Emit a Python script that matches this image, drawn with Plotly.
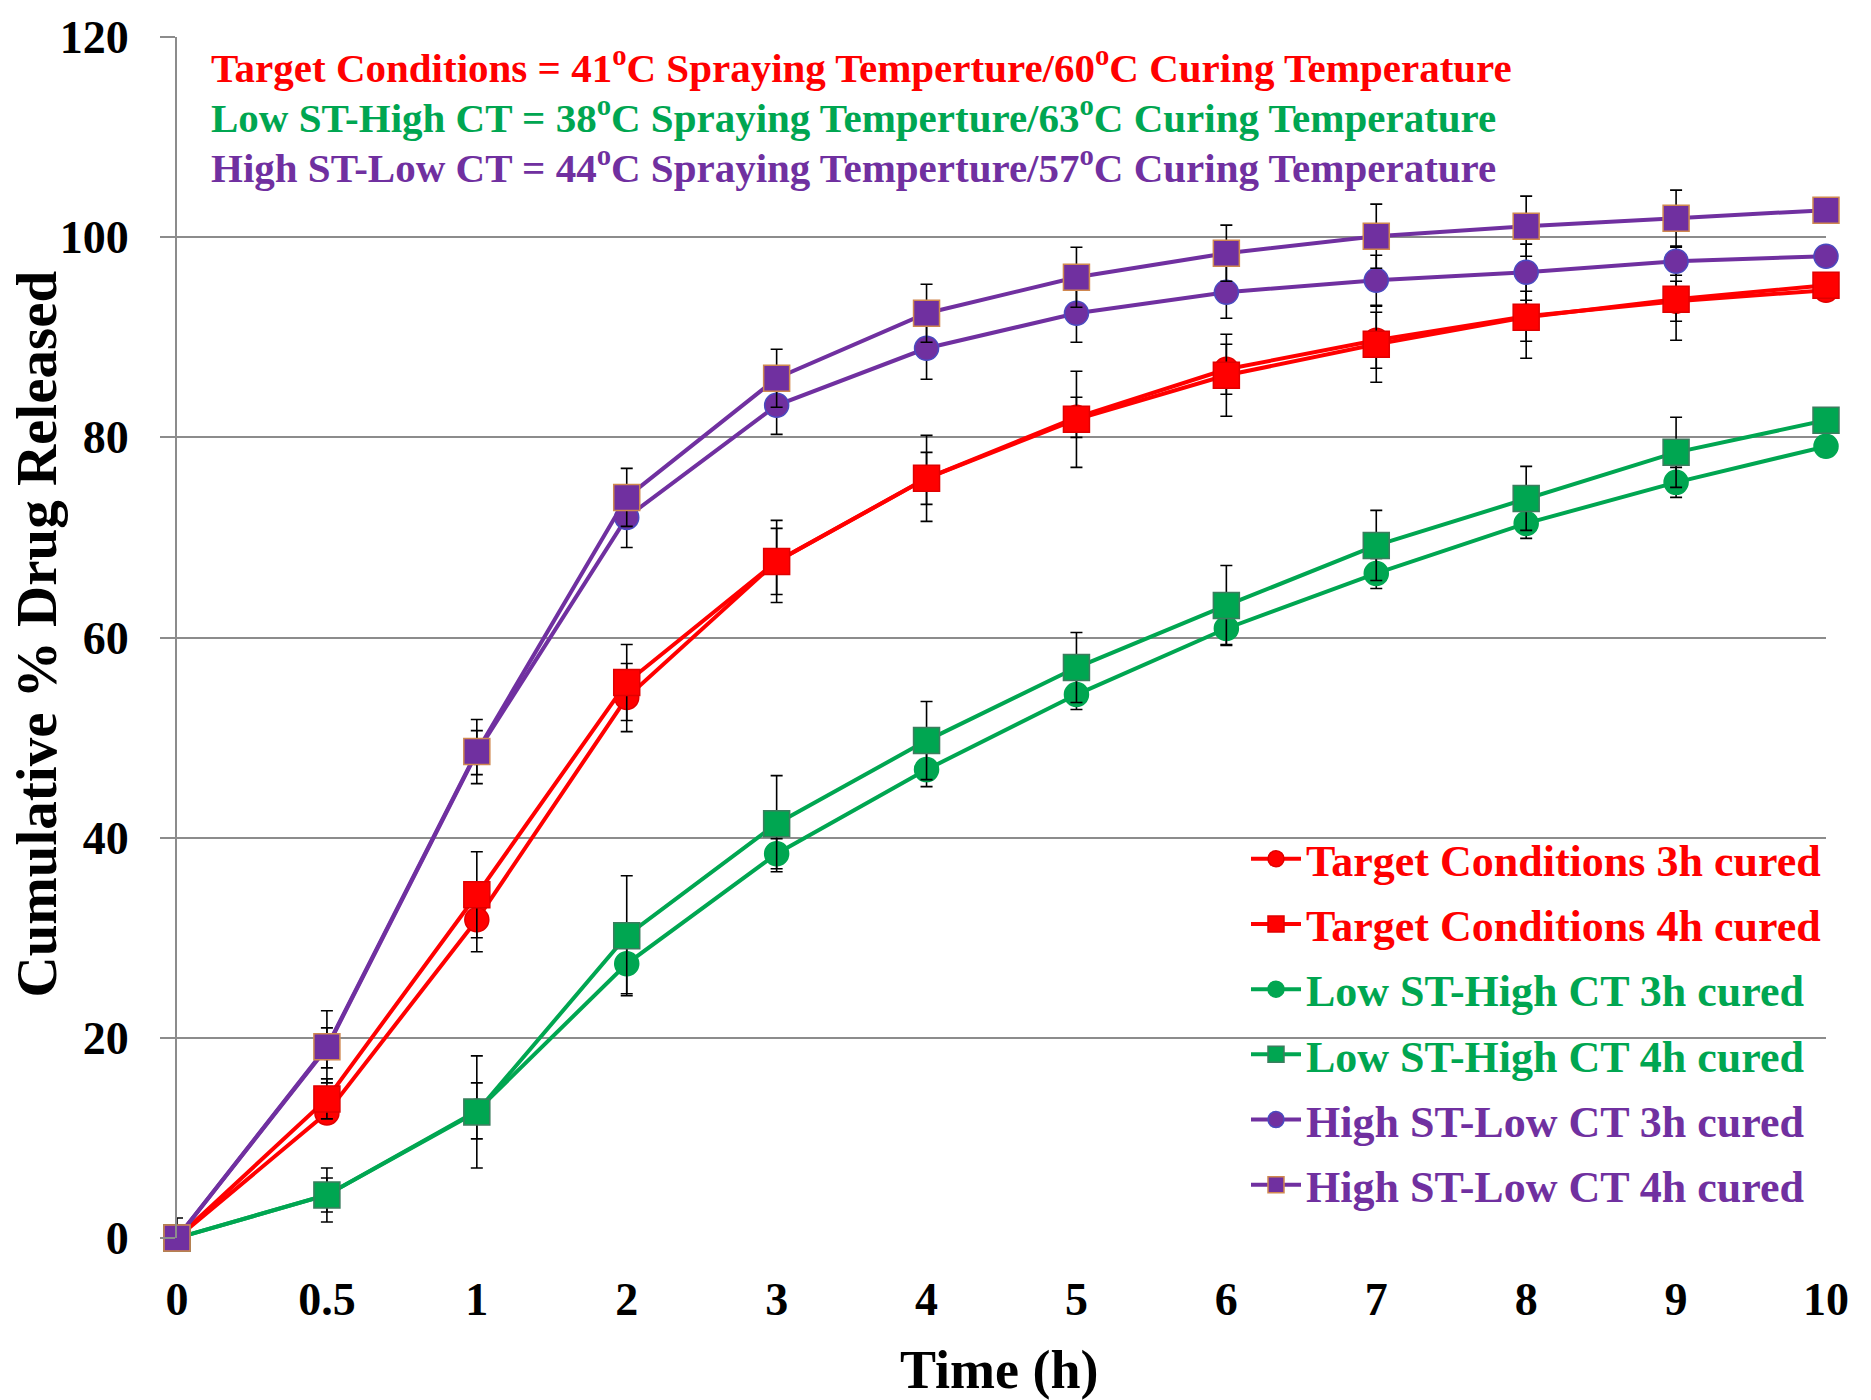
import plotly.graph_objects as go

times = ["0", "0.5", "1", "2", "3", "4", "5", "6", "7", "8", "9", "10"]

tc3 = [0, 12.5, 31.8, 54.0, 67.6, 75.9, 82.0, 86.8, 89.7, 92.1, 93.6, 94.7]
tc3_err = [0.5, 1.0, 3.2, 3.4, 3.3, 2.6, 2.0, 2.5, 2.8, 2.5, 2.0, 1.0]
tc4 = [0, 13.9, 34.3, 55.5, 67.6, 75.9, 81.8, 86.2, 89.3, 92.0, 93.8, 95.2]
tc4_err = [0.5, 2.0, 4.3, 3.8, 4.1, 4.3, 4.8, 4.1, 3.8, 4.1, 4.1, 1.0]
lo3 = [0, 4.3, 12.7, 27.4, 38.4, 46.8, 54.3, 60.9, 66.4, 71.4, 75.5, 79.1]
lo3_err = [0.3, 1.7, 2.8, 3.0, 1.5, 1.7, 1.5, 1.6, 1.5, 1.5, 1.5, 1.0]
lo4 = [0, 4.3, 12.6, 30.2, 41.4, 49.7, 57.0, 63.2, 69.2, 73.9, 78.5, 81.7]
lo4_err = [0.3, 2.7, 5.6, 6.0, 4.8, 3.9, 3.5, 4.0, 3.5, 3.2, 3.5, 1.0]
hi3 = [0, 19.0, 48.5, 72.0, 83.2, 88.9, 92.4, 94.5, 95.7, 96.5, 97.6, 98.1]
hi3_err = [0.5, 2.0, 2.2, 3.0, 2.9, 3.1, 2.9, 2.6, 2.5, 2.8, 1.4, 1.0]
hi4 = [0, 19.1, 48.6, 74.0, 85.9, 92.4, 96.0, 98.4, 100.1, 101.1, 101.9, 102.7]
hi4_err = [2.0, 3.6, 3.2, 2.9, 2.9, 2.9, 3.0, 2.8, 3.2, 3.0, 2.8, 0.5]

names = ["Target Conditions 3h cured", "Target Conditions 4h cured",
         "Low ST-High CT 3h cured", "Low ST-High CT 4h cured",
         "High ST-Low CT 3h cured", "High ST-Low CT 4h cured"]

notes = ["Target Conditions = 41<sup>o</sup>C Spraying Temperture/60<sup>o</sup>C Curing Temperature",
         "Low ST-High CT = 38<sup>o</sup>C Spraying Temperture/63<sup>o</sup>C Curing Temperature",
         "High ST-Low CT = 44<sup>o</sup>C Spraying Temperture/57<sup>o</sup>C Curing Temperature"]

RED = "#FF0000"
GREEN = "#00A651"
PURPLE = "#7030A0"
FONT = "Liberation Serif"

series = [
    (tc3, tc3_err, RED, "circle", "#E00000"),
    (tc4, tc4_err, RED, "square", "#E00000"),
    (lo3, lo3_err, GREEN, "circle", "#00A651"),
    (lo4, lo4_err, GREEN, "square", "#3C7D5E"),
    (hi3, hi3_err, PURPLE, "circle", "#4A4AC0"),
    (hi4, hi4_err, PURPLE, "square", "#D08850"),
]

fig = go.Figure()
for i, ((vals, errs, col, sym, edge), nm) in enumerate(zip(series, names)):
    fig.add_trace(go.Scatter(
        x=times, y=vals,
        mode="lines+markers",
        name=f'<span style="color:{col}">{nm}</span>',
        legendgroup=f"g{i}",
        line=dict(color=col, width=4),
        marker=dict(symbol=sym, size=24 if sym == "circle" else 26, color=col,
                    line=dict(color=edge, width=1.5)),
        error_y=dict(type="data", array=errs, visible=True, color="black",
                     thickness=1.6, width=6),
        cliponaxis=False,
    ))

note_colors = [RED, GREEN, PURPLE]
note_y = [117.2, 112.2, 107.2]
for txt, c, yv in zip(notes, note_colors, note_y):
    fig.add_annotation(text=txt, xref="paper", yref="y",
                       x=0.0194, y=yv, xanchor="left", yanchor="middle",
                       showarrow=False,
                       font=dict(family=FONT, size=41, color=c, weight="bold"))

fig.add_annotation(text="Time (h)", xref="paper", yref="paper",
                   x=0.499, y=-0.1095, xanchor="center", yanchor="middle",
                   showarrow=False,
                   font=dict(family=FONT, size=54, color="black", weight="bold"))
fig.add_annotation(text="Cumulative % Drug Released", xref="paper", yref="paper",
                   x=-0.0855, y=0.5025, xanchor="center", yanchor="middle", textangle=-90,
                   showarrow=False,
                   font=dict(family=FONT, size=57, color="black", weight="bold"))

fig.update_layout(
    width=1871, height=1400,
    margin=dict(l=177, r=45, t=32, b=162),
    paper_bgcolor="white", plot_bgcolor="white",
    font=dict(family=FONT, color="black"),
    showlegend=True,
    legend=dict(x=1.0, xanchor="right", y=0.345, yanchor="top",
                bgcolor="rgba(0,0,0,0)",
                font=dict(family=FONT, size=44, weight="bold"),
                tracegroupgap=5, itemwidth=50),
)
fig.update_xaxes(type="category", range=[0, 11], showgrid=False, zeroline=False,
                 showline=False, ticks="", ticklabelstandoff=30,
                 tickfont=dict(family=FONT, size=46, color="black", weight="bold"))
fig.update_yaxes(range=[0, 120], dtick=20, tick0=0, showgrid=True, gridcolor="#8C8C8C",
                 gridwidth=2, zeroline=False, showline=True, linecolor="#8C8C8C", linewidth=2,
                 ticks="outside", ticklen=15, tickcolor="#8C8C8C", tickwidth=2,
                 ticklabelstandoff=22,
                 tickfont=dict(family=FONT, size=46, color="black", weight="bold"))

fig.write_html("out.html")
